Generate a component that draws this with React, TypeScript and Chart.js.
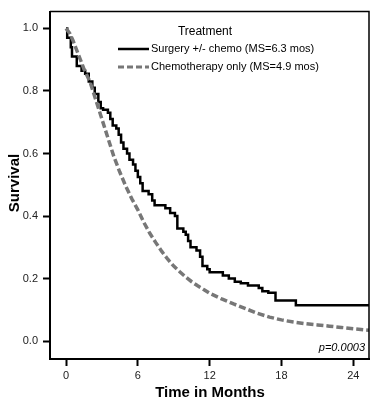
import React, { useEffect, useRef } from "react";
import { Chart, registerables } from "chart.js";

Chart.register(...registerables);

// Surgery +/- chemo (Kaplan-Meier steps): time in months, survival
const surgeryTimes = [0, 0.1, 0.4, 0.5, 0.9, 1.3, 1.6, 1.9, 2.2, 2.4, 2.7, 2.9, 3.1, 3.5, 3.7, 3.9, 4.2, 4.4, 4.6, 4.8, 5.1, 5.3, 5.6, 5.8, 6.0, 6.2, 6.4, 6.9, 7.2, 7.4, 8.3, 8.7, 9.1, 9.3, 9.8, 10.0, 10.2, 10.4, 10.9, 11.2, 11.4, 11.8, 12.0, 13.1, 13.6, 14.1, 14.6, 15.2, 16.1, 16.4, 16.9, 17.5, 19.2, 25.31];
const surgerySurvival = [1.0, 0.97, 0.94, 0.91, 0.88, 0.865, 0.855, 0.83, 0.81, 0.79, 0.765, 0.745, 0.74, 0.73, 0.71, 0.69, 0.68, 0.66, 0.635, 0.615, 0.6, 0.58, 0.565, 0.545, 0.525, 0.505, 0.48, 0.47, 0.45, 0.435, 0.425, 0.41, 0.4, 0.36, 0.35, 0.34, 0.32, 0.3, 0.29, 0.27, 0.24, 0.23, 0.22, 0.21, 0.2, 0.19, 0.185, 0.178, 0.17, 0.16, 0.155, 0.13, 0.115, 0.115];

// Chemotherapy only
const chemoTimes = [0, 0.3, 0.6, 1.0, 1.5, 2.0, 2.5, 3.0, 3.5, 4.0, 4.5, 5.0, 5.5, 6.0, 6.5, 7.0, 7.5, 8.0, 8.5, 9.0, 9.5, 10.0, 10.5, 11.0, 11.5, 12.0, 13.0, 14.0, 15.0, 16.0, 17.0, 18.0, 19.0, 20.0, 21.0, 22.0, 23.0, 24.0, 25.31];
const chemoSurvival = [1.0, 0.985, 0.96, 0.92, 0.87, 0.83, 0.77, 0.71, 0.65, 0.59, 0.54, 0.495, 0.455, 0.42, 0.38, 0.345, 0.315, 0.287, 0.262, 0.24, 0.222, 0.205, 0.19, 0.177, 0.165, 0.153, 0.135, 0.119, 0.104, 0.089, 0.077, 0.068, 0.061, 0.056, 0.052, 0.048, 0.044, 0.04, 0.035];

const xTicks = [0, 6, 12, 18, 24];
const yTicks = [0, 0.2, 0.4, 0.6, 0.8, 1.0];
const seriesLabels = ["Surgery +/- chemo (MS=6.3 mos)", "Chemotherapy only (MS=4.9 mos)"];
const legendTitle = "Treatment";
const xTitle = "Time in Months";
const yTitle = "Survival";
const pValueText = "p=0.0003";

const FONT = "'Liberation Sans', Arial, sans-serif";
const GRAY = "#777777";

const decorPlugin = {
  id: "decor",
  afterDraw(chart: any) {
    const { ctx, chartArea } = chart;
    const { left, right, top, bottom } = chartArea;
    ctx.save();
    // frame top/right
    ctx.strokeStyle = "#000";
    ctx.lineWidth = 1.5;
    ctx.beginPath();
    ctx.moveTo(left, top);
    ctx.lineTo(right, top);
    ctx.lineTo(right, bottom);
    ctx.stroke();

    // legend
    ctx.fillStyle = "#000";
    ctx.textBaseline = "middle";
    ctx.textAlign = "center";
    ctx.font = `12px ${FONT}`;
    ctx.fillText(legendTitle, 205, 32);

    ctx.textAlign = "left";
    ctx.font = `11px ${FONT}`;
    // entry 1
    ctx.strokeStyle = "#000";
    ctx.lineWidth = 2.5;
    ctx.setLineDash([]);
    ctx.beginPath();
    ctx.moveTo(118, 49);
    ctx.lineTo(149, 49);
    ctx.stroke();
    ctx.fillText(seriesLabels[0], 151, 49);
    // entry 2
    ctx.strokeStyle = GRAY;
    ctx.lineWidth = 3;
    ctx.setLineDash([6, 3]);
    ctx.beginPath();
    ctx.moveTo(118, 67);
    ctx.lineTo(149, 67);
    ctx.stroke();
    ctx.setLineDash([]);
    ctx.fillText(seriesLabels[1], 151, 67);

    // p-value
    ctx.font = `italic 11px ${FONT}`;
    ctx.textAlign = "right";
    ctx.textBaseline = "alphabetic";
    ctx.fillText(pValueText, 365, 351);

    // axis titles
    ctx.font = `bold 15px ${FONT}`;
    ctx.textAlign = "center";
    ctx.fillText(xTitle, 210, 397);
    ctx.translate(19, 183);
    ctx.rotate(-Math.PI / 2);
    ctx.fillText(yTitle, 0, 0);
    ctx.restore();
  },
};

export default function App() {
  const ref = useRef<HTMLCanvasElement>(null);

  useEffect(() => {
    if (!ref.current) return;
    const chart = new Chart(ref.current, {
      type: "line",
      data: {
        datasets: [
          {
            label: seriesLabels[1],
            data: chemoTimes.map((t, i) => ({ x: t, y: chemoSurvival[i] })),
            borderColor: GRAY,
            borderWidth: 3.5,
            borderDash: [7, 3],
            pointRadius: 0,
            tension: 0,
            fill: false,
          },
          {
            label: seriesLabels[0],
            data: surgeryTimes.map((t, i) => ({ x: t, y: surgerySurvival[i] })),
            borderColor: "#000",
            borderWidth: 2.5,
            pointRadius: 0,
            stepped: "before",
            fill: false,
          },
        ],
      },
      options: {
        animation: false,
        responsive: false,
        maintainAspectRatio: false,
        layout: { padding: { top: 8, right: 9, left: 0, bottom: 0 } },
        plugins: {
          legend: { display: false },
          tooltip: { enabled: false },
        },
        scales: {
          x: {
            type: "linear",
            min: -1.337,
            max: 25.31,
            afterBuildTicks: (scale: any) => {
              scale.ticks = xTicks.map((v) => ({ value: v }));
            },
            afterFit: (scale: any) => {
              scale.height = 44;
            },
            grid: {
              drawOnChartArea: false,
              drawTicks: true,
              tickLength: 7,
              tickColor: "#000",
              tickWidth: 2,
            },
            border: { display: true, color: "#000", width: 2 },
            ticks: {
              color: "#222",
              font: { family: FONT, size: 11 },
              padding: 3,
              maxRotation: 0,
              callback: (v: any) => String(v),
            },
          },
          y: {
            type: "linear",
            min: -0.057,
            max: 1.0538,
            afterBuildTicks: (scale: any) => {
              scale.ticks = yTicks.map((v) => ({ value: v }));
            },
            afterFit: (scale: any) => {
              scale.width = 50;
            },
            grid: {
              drawOnChartArea: false,
              drawTicks: true,
              tickLength: 7,
              tickColor: "#000",
              tickWidth: 2,
            },
            border: { display: true, color: "#000", width: 2 },
            ticks: {
              color: "#222",
              font: { family: FONT, size: 11 },
              padding: 5,
              callback: (v: any) => Number(v).toFixed(1),
            },
          },
        },
      },
      plugins: [decorPlugin],
    });
    return () => chart.destroy();
  }, []);

  return (
    <div style={{ position: "fixed", left: 0, top: 0, width: 378, height: 403, background: "#fff" }}>
      <canvas ref={ref} width={378} height={403} style={{ width: 378, height: 403, display: "block" }} />
    </div>
  );
}
